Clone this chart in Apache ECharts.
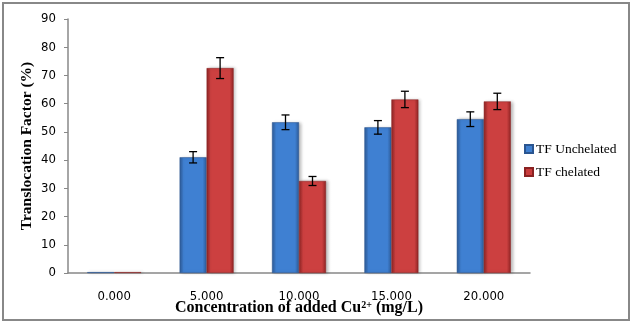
<!DOCTYPE html>
<html>
<head>
<meta charset="utf-8">
<script src="https://cdn.jsdelivr.net/npm/echarts@6/dist/echarts.min.js"></script>
<style>
html,body{margin:0;padding:0;background:#fff;overflow:hidden;}
#c{position:absolute;left:0;top:0;width:631px;height:322px;}
#frame{position:absolute;left:2px;top:2px;width:624px;height:315px;border:2px solid #888;box-sizing:content-box;pointer-events:none;}
</style>
</head>
<body>
<div id="c"></div>
<div id="frame"></div>
<script>
var categories = ['0.000', '5.000', '10.000', '15.000', '20.000'];
var unchelated = [0.3, 41.0, 53.4, 51.6, 54.5];
var unchelatedErr = [0, 2.0, 2.6, 2.4, 2.6];
var chelated = [0.3, 72.6, 32.6, 61.5, 60.8];
var chelatedErr = [0, 3.7, 1.6, 2.9, 2.9];
var yTicks = [0, 10, 20, 30, 40, 50, 60, 70, 80, 90];

var BAR_W = 27;

function grad(edge, mid) {
  return new echarts.graphic.LinearGradient(0, 0, 1, 0, [
    {offset: 0, color: edge},
    {offset: 0.15, color: mid},
    {offset: 0.85, color: mid},
    {offset: 1, color: edge}
  ]);
}

function errSeries(vals, errs, side) {
  var data = vals.map(function (v, i) { return [i, v, errs[i]]; });
  return {
    type: 'custom',
    silent: true,
    z: 10,
    data: data,
    renderItem: function (params, api) {
      var i = api.value(0), v = api.value(1), e = api.value(2);
      if (!e) return null;
      var c = api.coord([i, v]);
      var x = c[0] + side * BAR_W / 2;
      var hi = api.coord([i, v + e])[1];
      var lo = api.coord([i, v - e])[1];
      var cap = 4;
      var st = {stroke: '#000', lineWidth: 1.3};
      return {
        type: 'group',
        children: [
          {type: 'line', shape: {x1: x, y1: hi, x2: x, y2: lo}, style: st},
          {type: 'line', shape: {x1: x - cap, y1: hi, x2: x + cap, y2: hi}, style: st},
          {type: 'line', shape: {x1: x - cap, y1: lo, x2: x + cap, y2: lo}, style: st}
        ]
      };
    }
  };
}

var chart = echarts.init(document.getElementById('c'), null, {renderer: 'canvas', width: 631, height: 322});
chart.setOption({
  animation: false,
  backgroundColor: '#fff',
  grid: {left: 68, right: 101, top: 19, bottom: 49, containLabel: false, outerBoundsMode: 'none'},
  legend: {
    orient: 'vertical',
    left: 519,
    top: 137,
    itemWidth: 8,
    itemHeight: 8,
    itemGap: 9,
    icon: 'rect',
    textStyle: {fontFamily: 'Liberation Serif', fontSize: 13.5, color: '#000', padding: [0, 0, 0, -2]},
    data: [
      {name: 'TF Unchelated', itemStyle: {color: '#3f7fd0'}},
      {name: 'TF chelated', itemStyle: {color: '#c93c3c'}}
    ]
  },
  xAxis: {
    type: 'category',
    data: categories,
    axisLine: {lineStyle: {color: '#888', width: 1.5}},
    axisTick: {show: false},
    axisLabel: {color: '#000', fontFamily: 'DejaVu Sans Condensed', fontSize: 13, margin: 17},
    name: '{a|Concentration of added Cu}{s|2+}{a| (mg/L)}',
    nameLocation: 'middle',
    nameGap: 27,
    nameMoveOverlap: false,
    nameTextStyle: {
      rich: {
        a: {fontFamily: 'Liberation Serif', fontWeight: 'bold', fontSize: 16, color: '#000'},
        s: {fontFamily: 'Liberation Serif', fontWeight: 'bold', fontSize: 10, color: '#000', verticalAlign: 'top', padding: [0, 0, 6, 0]}
      }
    }
  },
  yAxis: {
    type: 'value',
    min: 0,
    max: 90,
    interval: 10,
    splitLine: {show: false},
    axisLine: {show: true, lineStyle: {color: '#888', width: 1.5}},
    axisTick: {show: true, length: 4, lineStyle: {color: '#888'}},
    axisLabel: {color: '#000', fontFamily: 'DejaVu Sans Condensed', fontSize: 13, margin: 12,
      formatter: function (v) { return yTicks.indexOf(v) >= 0 ? String(v) : ''; }},
    name: 'Translocation Factor (%)',
    nameLocation: 'middle',
    nameGap: 33,
    nameMoveOverlap: false,
    nameTextStyle: {fontFamily: 'Liberation Serif', fontWeight: 'bold', fontSize: 15.5, color: '#000'}
  },
  series: [
    {
      name: 'TF Unchelated',
      type: 'bar',
      barWidth: BAR_W,
      barGap: '0%',
      data: unchelated,
      itemStyle: {
        color: grad('#2d5a96', '#3f80d2'),
        borderColor: '#2a5590', borderWidth: 0.5,
        shadowBlur: 3, shadowOffsetX: 2, shadowColor: 'rgba(0,0,0,0.25)'
      }
    },
    {
      name: 'TF chelated',
      type: 'bar',
      barWidth: BAR_W,
      barGap: '0%',
      data: chelated,
      itemStyle: {
        color: grad('#8e2424', '#cc4040'),
        borderColor: '#8a2222', borderWidth: 0.5,
        shadowBlur: 3, shadowOffsetX: 2, shadowColor: 'rgba(0,0,0,0.25)'
      }
    },
    errSeries(unchelated, unchelatedErr, -1),
    errSeries(chelated, chelatedErr, 1)
  ]
});
</script>
</body>
</html>
